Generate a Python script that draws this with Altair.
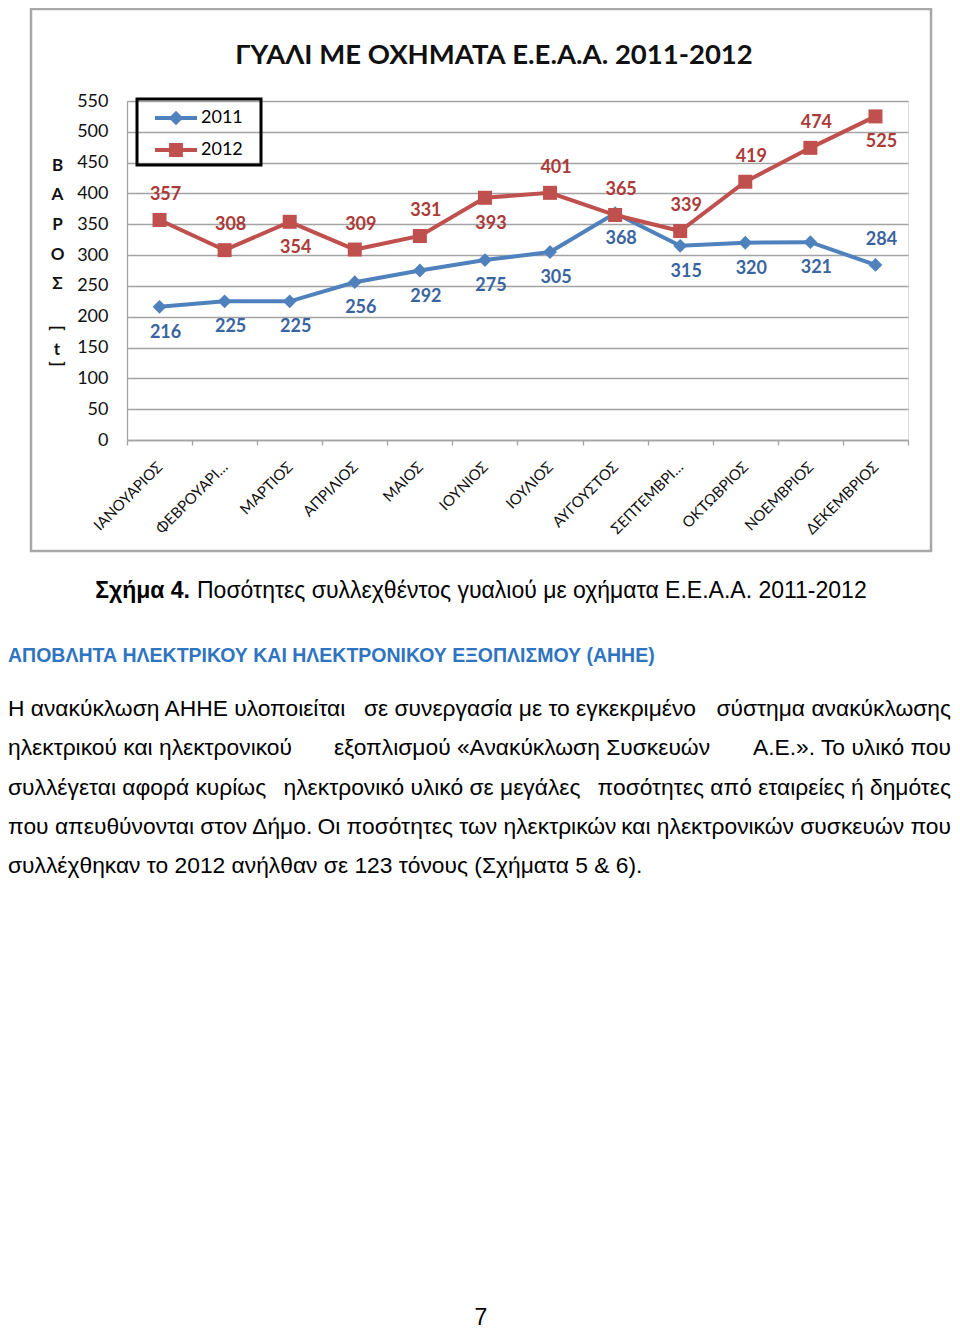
import altair as alt
import pandas as pd

# ---------------- data ----------------
months = ["ΙΑΝΟΥΑΡΙΟΣ", "ΦΕΒΡΟΥΑΡΙ…", "ΜΑΡΤΙΟΣ", "ΑΠΡΙΛΙΟΣ", "ΜΑΙΟΣ", "ΙΟΥΝΙΟΣ",
          "ΙΟΥΛΙΟΣ", "ΑΥΓΟΥΣΤΟΣ", "ΣΕΠΤΕΜΒΡΙ…", "ΟΚΤΩΒΡΙΟΣ", "ΝΟΕΜΒΡΙΟΣ", "ΔΕΚΕΜΒΡΙΟΣ"]
series = ["2011", "2012"]
values_2011 = [216, 225, 225, 256, 275, 292, 305, 368, 315, 320, 321, 284]
labels_2011 = ["216", "225", "225", "256", "292", "275", "305", "368", "315", "320", "321", "284"]
place_2011 = ["below", "below", "below", "below", "below", "below",
              "below", "below", "below", "below", "below", "above"]
values_2012 = [357, 308, 354, 309, 331, 393, 401, 365, 339, 419, 474, 525]
labels_2012 = ["357", "308", "354", "309", "331", "393", "401", "365", "339", "419", "474", "525"]
place_2012 = ["above", "above", "below", "above", "above", "below",
              "above", "above", "above", "above", "above", "below"]
y_ticks = [0, 50, 100, 150, 200, 250, 300, 350, 400, 450, 500, 550]

chart_title = "ΓΥΑΛΙ ΜΕ ΟΧΗΜΑΤΑ Ε.Ε.Α.Α. 2011-2012"
y_title_letters = ["Β", "Α", "Ρ", "Ο", "Σ"]
caption_bold = "Σχήμα 4."
caption_text = "Ποσότητες συλλεχθέντος γυαλιού με οχήματα Ε.Ε.Α.Α. 2011-2012"
heading = "ΑΠΟΒΛΗΤΑ ΗΛΕΚΤΡΙΚΟΥ ΚΑΙ ΗΛΕΚΤΡΟΝΙΚΟΥ ΕΞΟΠΛΙΣΜΟΥ (ΑΗΗΕ)"
para_left = ["Η ανακύκλωση ΑΗΗΕ υλοποιείται",
             "ηλεκτρικού και ηλεκτρονικού",
             "συλλέγεται αφορά κυρίως",
             "που απευθύνονται στον Δήμο.",
             "συλλέχθηκαν το 2012 ανήλθαν σε 123 τόνους (Σχήματα 5 & 6)."]
para_mid = ["σε συνεργασία με το εγκεκριμένο",
            "εξοπλισμού «Ανακύκλωση Συσκευών",
            "ηλεκτρονικό υλικό σε μεγάλες",
            "Οι ποσότητες των ηλεκτρικών"]
para_right = ["σύστημα ανακύκλωσης",
              "Α.Ε.». Το υλικό που",
              "ποσότητες από εταιρείες ή δημότες",
              "και ηλεκτρονικών συσκευών που"]
page_number = "7"

rows = []
for i, m in enumerate(months):
    rows.append({"idx": i, "month": m, "series": "2011", "value": values_2011[i],
                 "label": labels_2011[i], "place": place_2011[i]})
    rows.append({"idx": i, "month": m, "series": "2012", "value": values_2012[i],
                 "label": labels_2012[i], "place": place_2012[i]})
df = pd.DataFrame(rows)

# ---------------- styles ----------------
CH_FONT = "Lato"
DOC_FONT = "Liberation Sans"
GRID = "#a3a3a3"
line_colors = ["#4f81bd", "#c0504d"]
label_colors = ["#3a64a0", "#aa3b38"]

color_scale = alt.Scale(domain=series, range=line_colors)
p_diamond = "M-1.4,-0.14H1.4V0.14H-1.4Z M0,-0.48L0.48,0L0,0.48L-0.48,0Z"
p_square = "M-1.4,-0.14H1.4V0.14H-1.4Z M-0.46,-0.46H0.46V0.46H-0.46Z"
shape_scale = alt.Scale(domain=series, range=[p_diamond, p_square])

x_enc = alt.X("month:N", sort=months,
              scale=alt.Scale(type="band", paddingInner=0, paddingOuter=0),
              axis=alt.Axis(title=None, labelAngle=-45, labelAlign="right",
                            labelBaseline="middle", labelFont=CH_FONT, labelFontSize=15,
                            labelColor="#111111", labelPadding=19, labelOverlap=False,
                            tickBand="extent", tickSize=5, tickColor=GRID, tickWidth=1.3,
                            domainColor=GRID, domainWidth=1.3, grid=False))
y_enc = alt.Y("value:Q", scale=alt.Scale(domain=[0, 550], nice=False, zero=True),
              axis=alt.Axis(values=y_ticks, title=y_title_letters, titleAngle=0,
                            titleX=-70, titleY=64, titleAlign="center",
                            titleBaseline="middle", titleLineHeight=29.7,
                            titleFont=CH_FONT, titleFontSize=17, titleFontWeight="bold",
                            titleColor="#111111",
                            labelFont=CH_FONT, labelFontSize=18, labelColor="#111111",
                            labelPadding=19, ticks=False,
                            domainColor=GRID, domainWidth=1.3,
                            gridColor=GRID, gridWidth=1.3))

base = alt.Chart(df).encode(x=x_enc, y=y_enc)

leg = alt.Legend(title=None, orient="none", legendX=10, legendY=-2, direction="vertical",
                 padding=4, rowPadding=8, symbolSize=900, symbolOffset=20,
                 labelOffset=10, labelFont=CH_FONT, labelFontSize=18, labelColor="#000000",
                 symbolStrokeWidth=0, symbolOpacity=1,
                 labelExpr="datum.label + '\u2007\u2007'")

legend_layer = base.mark_point(filled=True, opacity=0, size=900).encode(
    color=alt.Color("series:N", scale=color_scale, legend=leg),
    shape=alt.Shape("series:N", scale=shape_scale, legend=leg))
lines = base.mark_line(strokeWidth=4).encode(
    color=alt.Color("series:N", scale=color_scale, legend=None),
    order=alt.Order("idx:Q"))
pts11 = base.mark_point(shape="diamond", filled=True, size=190, opacity=1).encode(
    color=alt.Color("series:N", scale=color_scale, legend=None)
).transform_filter(alt.datum.series == "2011")
pts12 = base.mark_point(shape="square", filled=True, size=196, opacity=1).encode(
    color=alt.Color("series:N", scale=color_scale, legend=None)
).transform_filter(alt.datum.series == "2012")

lab_fill = alt.Fill("series:N", scale=alt.Scale(domain=series, range=label_colors), legend=None)
lab_above = base.mark_text(font=CH_FONT, fontSize=18, fontWeight="bold", dx=6, dy=-25).encode(
    text="label:N", fill=lab_fill).transform_filter(alt.datum.place == "above")
lab_below = base.mark_text(font=CH_FONT, fontSize=18, fontWeight="bold", dx=6, dy=26).encode(
    text="label:N", fill=lab_fill).transform_filter(alt.datum.place == "below")


def one():
    return alt.Chart(alt.Data(values=[{}]))


border = one().mark_rect(fill="white", fillOpacity=0, stroke="#a8a8a8", strokeWidth=2.5).encode(
    x=alt.value(-96), x2=alt.value(804), y=alt.value(-92), y2=alt.value(450))
legend_box = one().mark_rect(fill="white", fillOpacity=0, stroke="#000000", strokeWidth=3).encode(
    x=alt.value(10), x2=alt.value(134), y=alt.value(-2), y2=alt.value(64))

title_mark = one().mark_text(font=CH_FONT, fontSize=27.5, fontWeight="bold", color="#111111",
                             align="center", baseline="middle").encode(
    x=alt.value(367), y=alt.value(-45), text=alt.value(chart_title))

brackets = alt.Chart(pd.DataFrame({"t": ["]", "t", "["], "py": [227, 249, 263],
                                   "ang": [270, 0, 270]})).mark_text(
    font=CH_FONT, fontSize=17, fontWeight="bold", color="#111111",
    align="center", baseline="middle").encode(
    x=alt.value(-70), y=alt.Y("py:Q", scale=None), text="t:N",
    angle=alt.Angle("ang:Q", scale=None))

cap_b = one().mark_text(font=DOC_FONT, fontSize=23, fontWeight="bold", color="#000000",
                        align="right", baseline="middle").encode(
    x=alt.value(63), y=alt.value(490), text=alt.value(caption_bold))
cap_n = one().mark_text(font=DOC_FONT, fontSize=23, color="#000000",
                        align="left", baseline="middle").encode(
    x=alt.value(70), y=alt.value(490), text=alt.value(caption_text))
head = one().mark_text(font=DOC_FONT, fontSize=19.5, fontWeight="bold", color="#2f74c0",
                       align="left", baseline="middle").encode(
    x=alt.value(-119), y=alt.value(555), text=alt.value(heading))

PARA_SIZE = 22.8
line_y = [608, 647, 687, 726, 765]
mid_x = [403, 395, 305, 340]
para_l = alt.Chart(pd.DataFrame({"t": para_left, "py": line_y})).mark_text(
    font=DOC_FONT, fontSize=PARA_SIZE, color="#000000", align="left", baseline="middle").encode(
    x=alt.value(-119), y=alt.Y("py:Q", scale=None), text="t:N")
para_m = alt.Chart(pd.DataFrame({"t": para_mid, "py": line_y[:4], "px": mid_x})).mark_text(
    font=DOC_FONT, fontSize=PARA_SIZE, color="#000000", align="center", baseline="middle").encode(
    x=alt.X("px:Q", scale=None), y=alt.Y("py:Q", scale=None), text="t:N")
para_r = alt.Chart(pd.DataFrame({"t": para_right, "py": line_y[:4]})).mark_text(
    font=DOC_FONT, fontSize=PARA_SIZE, color="#000000", align="right", baseline="middle").encode(
    x=alt.value(824), y=alt.Y("py:Q", scale=None), text="t:N")
page = one().mark_text(font=DOC_FONT, fontSize=23, color="#000000",
                       align="center", baseline="bottom").encode(
    x=alt.value(354), y=alt.value(1229), text=alt.value(page_number))

chart = alt.layer(
    legend_layer, border, legend_box, lines, pts11, pts12, lab_above, lab_below,
    title_mark, brackets, cap_b, cap_n, head, para_l, para_m, para_r, page
).properties(
    width=781, height=339,
    padding={"left": 119, "top": 93, "right": 44, "bottom": 892},
    autosize=alt.AutoSizeParams(type="none"),
).configure_view(stroke=None).configure(background="white")

chart.save("out.html", embed_options={"renderer": "svg", "actions": False})
